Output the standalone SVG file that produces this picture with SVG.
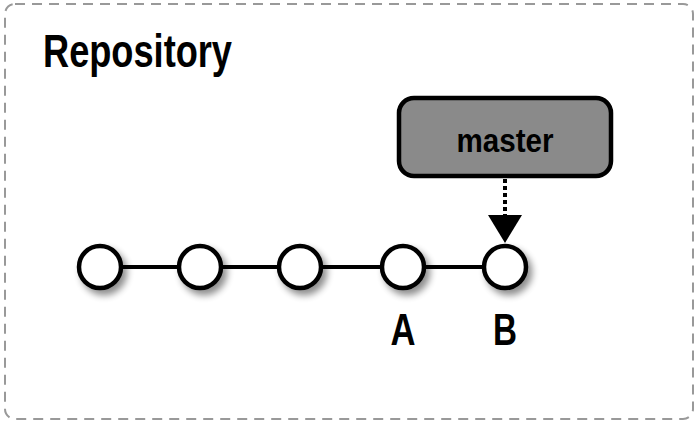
<svg xmlns="http://www.w3.org/2000/svg" width="700" height="426" viewBox="0 0 700 426">
<style>
.title{font-family:"Liberation Sans",Arial,sans-serif;font-weight:bold;fill:#000}
.commit{fill:#fff;stroke:#000;stroke-width:4.5}
.edge{stroke:#000;stroke-width:4;fill:none}
</style>
<defs>
<filter id="sh" x="-50%" y="-50%" width="200%" height="200%">
<feGaussianBlur in="SourceAlpha" stdDeviation="3.5"/>
<feOffset dx="4" dy="5" result="b"/>
<feComponentTransfer><feFuncA type="linear" slope="0.45"/></feComponentTransfer>
<feMerge><feMergeNode/><feMergeNode in="SourceGraphic"/></feMerge>
</filter>
</defs>
<rect x="5" y="4" width="688" height="415" rx="10" fill="#fff" stroke="#999" stroke-width="2" stroke-dasharray="10 7"/>
<text class="title" x="43" y="67" font-size="46" textLength="189" lengthAdjust="spacingAndGlyphs">Repository</text>
<g id="connectors">
<line class="edge" x1="100" y1="267" x2="505" y2="267"/>
<line x1="505" y1="179" x2="505" y2="215" stroke="#000" stroke-width="4" stroke-dasharray="4 3"/>
<path d="M488,215 L522,215 L505,243 z" fill="#000"/>
</g>
<g id="c1"><circle class="commit" cx="100" cy="267" r="21" filter="url(#sh)"/></g>
<g id="c2"><circle class="commit" cx="200" cy="267" r="21" filter="url(#sh)"/></g>
<g id="c3"><circle class="commit" cx="300" cy="267" r="21" filter="url(#sh)"/></g>
<g id="cA"><circle class="commit" cx="403" cy="267" r="21" filter="url(#sh)"/>
<text class="title" x="403" y="345" font-size="44" text-anchor="middle" textLength="25" lengthAdjust="spacingAndGlyphs">A</text></g>
<g id="cB"><circle class="commit" cx="505" cy="267" r="21" filter="url(#sh)"/>
<text class="title" x="505" y="345" font-size="44" text-anchor="middle" textLength="24" lengthAdjust="spacingAndGlyphs">B</text></g>
<g id="master"><rect x="399" y="98" width="212" height="78" rx="15" fill="#8a8a8a" stroke="#000" stroke-width="4.5"/>
<text class="title" x="505" y="152" font-size="34" text-anchor="middle" textLength="97" lengthAdjust="spacingAndGlyphs">master</text></g>
</svg>
